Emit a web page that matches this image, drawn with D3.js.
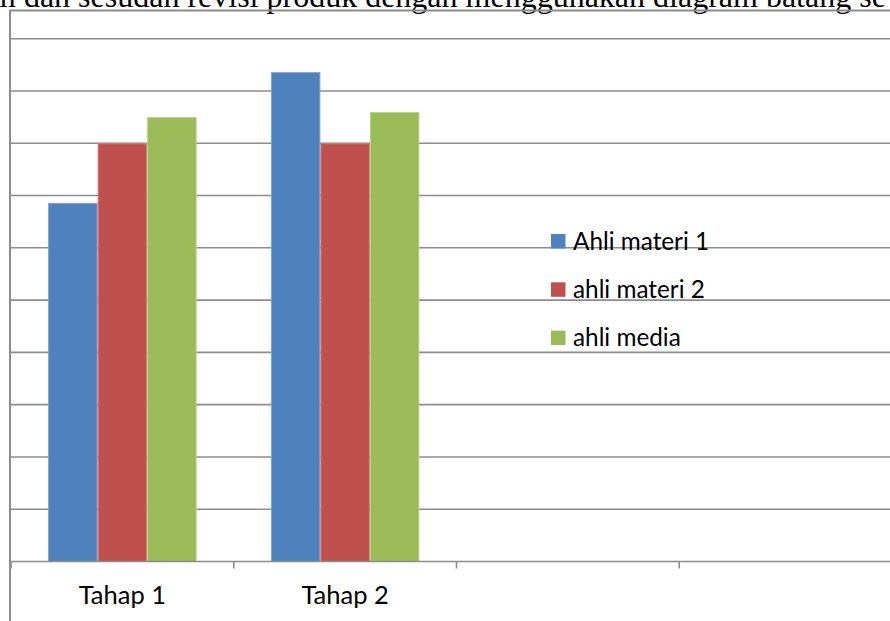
<!DOCTYPE html>
<html>
<head>
<meta charset="utf-8">
<script src="https://cdn.jsdelivr.net/npm/d3@7"></script>
<style>
  html, body { margin: 0; padding: 0; background: #fff; overflow: hidden; }
  svg { display: block; }
</style>
</head>
<body>
<svg id="chart" width="890" height="621"></svg>
<script>
// Stages (only the first two hold data; the axis has four slots)
const categories = ["Tahap 1", "Tahap 2", "", ""];
const seriesNames = ["Ahli materi 1", "ahli materi 2", "ahli media"];
const seriesColors = ["#4F81BD", "#C0504D", "#9BBB59"];
const seriesEdges = ["#7FA2D2", "#D27C7A", "#BAD28A"];
// Scores per series, one per filled stage
const ahliMateri1 = [68.6, 93.6];
const ahliMateri2 = [80, 80];
const ahliMedia = [85, 86];
const yTicks = [0, 10, 20, 30, 40, 50, 60, 70, 80, 90, 100];
const captionText = "m dan sesudah revisi produk dengan menggunakan diagram batang se";

const values = [ahliMateri1, ahliMateri2, ahliMedia];
const svg = d3.select("#chart");
const grey = "#8C8C8C";

// Caption line from the surrounding document
svg.append("text")
  .attr("x", -9).attr("y", 6.5)
  .attr("font-family", "'Liberation Serif', 'Times New Roman', serif")
  .attr("font-size", 32)
  .attr("fill", "#000")
  .text(captionText);

// Chart frame
svg.append("path")
  .attr("d", "M10,700 V10.5 H900")
  .attr("fill", "none").attr("stroke", grey).attr("stroke-width", 2);

const x0 = d3.scaleBand().domain(d3.range(categories.length)).range([11, 902]);
const x1 = d3.scaleBand().domain(d3.range(seriesNames.length))
  .range([0, x0.bandwidth()]).paddingInner(0).paddingOuter(0.75);
const y = d3.scaleLinear().domain([0, 100]).range([561.5, 38.7]);

// Horizontal gridlines
svg.append("g").selectAll("line")
  .data(yTicks.filter(t => t > 0))
  .join("line")
  .attr("x1", 11).attr("x2", 902)
  .attr("y1", d => y(d)).attr("y2", d => y(d))
  .attr("stroke", grey).attr("stroke-width", 1.6);

// Bars
const groups = svg.append("g").selectAll("g")
  .data(d3.range(ahliMateri1.length))
  .join("g")
  .attr("transform", i => `translate(${x0(i)},0)`);

groups.selectAll("rect")
  .data(i => values.map((s, k) => ({ k, v: s[i] })))
  .join("rect")
  .attr("x", d => x1(d.k) + 0.5)
  .attr("width", x1.bandwidth() - 1)
  .attr("y", d => y(d.v) + 0.5)
  .attr("height", d => y(0) - y(d.v) - 0.5)
  .attr("fill", d => seriesColors[d.k])
  .attr("stroke", d => seriesEdges[d.k])
  .attr("stroke-width", 1);

// Category axis
const xAxis = svg.append("g");
xAxis.append("line")
  .attr("x1", 10).attr("x2", 902)
  .attr("y1", y(0)).attr("y2", y(0))
  .attr("stroke", grey).attr("stroke-width", 1.6);
xAxis.selectAll("line.tick")
  .data(d3.range(categories.length + 1))
  .join("line")
  .attr("class", "tick")
  .attr("x1", i => i < categories.length ? x0(i) : x0.range()[1])
  .attr("x2", i => i < categories.length ? x0(i) : x0.range()[1])
  .attr("y1", y(0)).attr("y2", y(0) + 7)
  .attr("stroke", grey).attr("stroke-width", 1.6);
xAxis.selectAll("text")
  .data(categories)
  .join("text")
  .attr("x", (d, i) => x0(i) + x0.bandwidth() / 2)
  .attr("y", 604)
  .attr("text-anchor", "middle")
  .attr("font-family", "Lato, 'Open Sans', sans-serif")
  .attr("font-size", 25.5)
  .attr("fill", "#000")
  .text(d => d);

// Legend
const legend = svg.append("g").selectAll("g")
  .data(seriesNames)
  .join("g")
  .attr("transform", (d, i) => `translate(551,${241.5 + i * 48.3})`);
legend.append("rect")
  .attr("x", 0).attr("y", -7.5)
  .attr("width", 14.5).attr("height", 14.5)
  .attr("fill", (d, i) => seriesColors[i]);
legend.append("text")
  .attr("x", 22).attr("y", 8)
  .attr("font-family", "Lato, 'Open Sans', sans-serif")
  .attr("font-size", 24.3)
  .attr("fill", "#000")
  .text(d => d);
</script>
</body>
</html>
